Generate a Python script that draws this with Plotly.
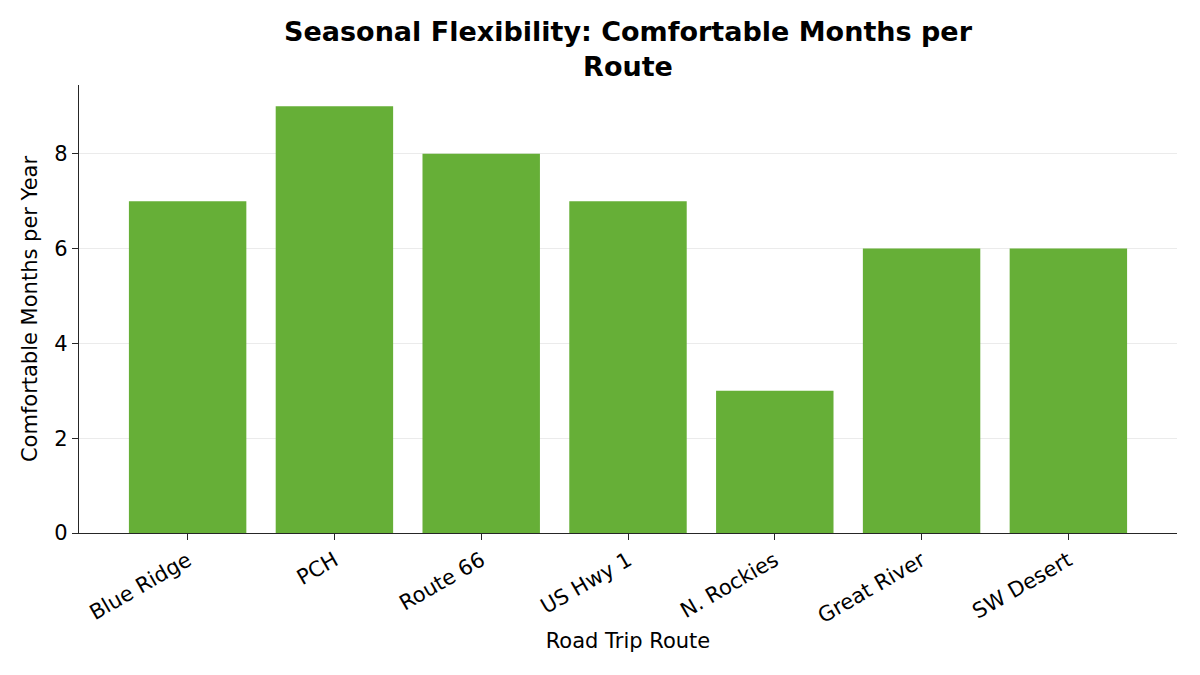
import plotly.graph_objects as go

# 資料
routes = ["Blue Ridge", "PCH", "Route 66", "US Hwy 1", "N. Rockies", "Great River", "SW Desert"]
comfortable_months = [7, 9, 8, 7, 3, 6, 6]
y_ticks = [0, 2, 4, 6, 8]

font_family = "DejaVu Sans"

fig = go.Figure()

fig.add_trace(go.Bar(
    x=list(range(len(routes))),
    y=comfortable_months,
    width=0.8,
    marker=dict(color="#66AF37", line=dict(width=0)),
    hoverinfo="skip",
))

fig.update_xaxes(
    tickvals=list(range(len(routes))),
    ticktext=routes,
    tickangle=-30,
    range=[-0.74, 6.74],
    showline=True, linecolor="#262626", linewidth=1.3,
    ticks="outside", ticklen=6, tickwidth=1.3, tickcolor="#262626",
    showgrid=False, zeroline=False,
    tickfont=dict(size=21, family=font_family, color="black"),
    title=dict(text="Road Trip Route", font=dict(size=21, family=font_family, color="black"), standoff=6),
)

fig.update_yaxes(
    range=[0, 9.45],
    tickvals=y_ticks,
    showline=True, linecolor="#262626", linewidth=1.3,
    ticks="outside", ticklen=6, tickwidth=1.3, tickcolor="#262626",
    showgrid=True, gridcolor="#EBEBEB", gridwidth=1,
    zeroline=False,
    tickfont=dict(size=21, family=font_family, color="black"),
    title=dict(text="Comfortable Months per Year", font=dict(size=21, family=font_family, color="black"), standoff=10),
)

# 頁面 body 有 8px 邊距,邊界往回補
fig.update_layout(
    width=1200, height=675,
    margin=dict(l=71, r=31, t=77, b=150),
    plot_bgcolor="white", paper_bgcolor="white",
    showlegend=False,
    title=dict(
        text="<b>Seasonal Flexibility: Comfortable Months per<br>Route</b>",
        x=0.5, xref="paper", xanchor="center", y=0.951, yanchor="top",
        font=dict(size=27, family=font_family, color="black"),
    ),
)

fig.write_html("out.html")
